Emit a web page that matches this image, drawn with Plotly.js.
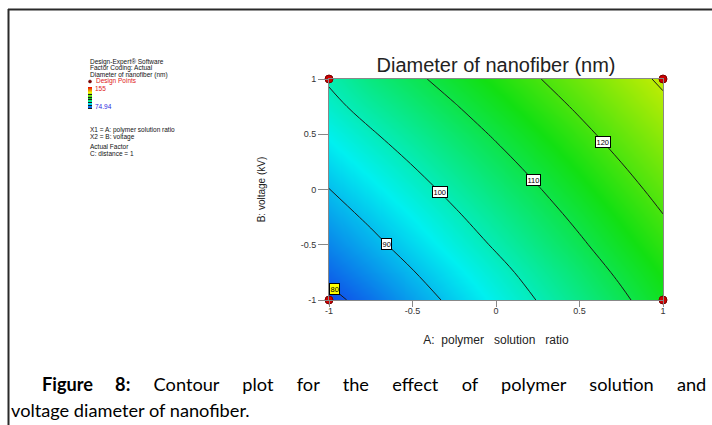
<!DOCTYPE html>
<html>
<head>
<meta charset="utf-8">
<script src="https://cdn.plot.ly/plotly-3.0.1.min.js"></script>
<style>
  html, body { margin: 0; padding: 0; background: #fff; }
  #chart { width: 712px; height: 425px; }
</style>
</head>
<body>
<div id="chart"></div>
<script>
// Coded factor levels (A: polymer solution ratio, B: voltage)
const factorA = [-1, -0.75, -0.5, -0.25, 0, 0.25, 0.5, 0.75, 1];
const factorB = [-1, -0.75, -0.5, -0.25, 0, 0.25, 0.5, 0.75, 1];

// Predicted nanofiber diameter (nm); one row per B level, one column per A level
const diameter = [
  [78.3, 82.3, 87.0, 91.4, 95.8, 100.2, 104.6, 108.9, 113.6],
  [81.5, 85.5, 89.7, 93.9, 98.1, 102.4, 106.7, 111.1, 115.5],
  [84.4, 88.4, 92.45, 96.56, 100.7, 104.88, 109.10, 113.36, 117.65],
  [87.2, 91.05, 95.04, 99.06, 103.13, 107.23, 111.36, 115.54, 119.75],
  [89.9, 93.77, 97.68, 101.62, 105.6, 109.62, 113.68, 117.77, 121.9],
  [92.7, 96.54, 100.36, 104.23, 108.13, 112.06, 116.04, 120.05, 124.1],
  [95.5, 99.36, 103.10, 106.88, 110.7, 114.56, 118.45, 122.38, 126.35],
  [98.3, 102.23, 105.89, 109.59, 113.33, 117.10, 120.91, 124.76, 128.65],
  [100.7, 105.14, 108.73, 112.34, 116.0, 119.69, 123.43, 127.19, 131.0]
];

// Contour levels and the levels that carry a boxed label
const contourLevels = [80, 90, 100, 110, 120, 130];
const labelLevels = [80, 90, 100, 110, 120];

// Design points (corners of the factorial region)
const designA = [-1, 1, -1, 1];
const designB = [-1, -1, 1, 1];

// Observed response range shown in the side legend
const responseRange = [74.94, 155];

// Axis ticks
const tickValues = [-1, -0.5, 0, 0.5, 1];
const tickLabels = ['-1', '-0.5', '0', '0.5', '1'];

// Figure caption, first (justified) line split into words, second line as is
const captionLead = 'Figure 8:';
const captionWords = ['Contour', 'plot', 'for', 'the', 'effect', 'of', 'polymer', 'solution', 'and'];
const captionTail = 'voltage diameter of nanofiber.';

// ---------------------------------------------------------------------------
const W = 712, H = 425;
const M = { l: 329, r: 49, t: 79, b: 125 };
const PW = W - M.l - M.r, PH = H - M.t - M.b;
const px = x => (x - M.l) / PW;          // page pixel -> paper x
const py = y => (H - M.b - y) / PH;      // page pixel -> paper y

const rainbow = [
  [0, '#1228e6'], [0.25, '#00f0f0'], [0.5, '#12e012'],
  [0.75, '#f0f000'], [1, '#e80000']
];

// bilinear lookup in the response grid
function zAt(a, b) {
  const idx = (arr, v) => {
    let i = 0;
    while (i < arr.length - 2 && v > arr[i + 1]) i++;
    return i;
  };
  const i = idx(factorA, a), j = idx(factorB, b);
  const ta = (a - factorA[i]) / (factorA[i + 1] - factorA[i]);
  const tb = (b - factorB[j]) / (factorB[j + 1] - factorB[j]);
  const z00 = diameter[j][i], z10 = diameter[j][i + 1];
  const z01 = diameter[j + 1][i], z11 = diameter[j + 1][i + 1];
  return (1 - ta) * (1 - tb) * z00 + ta * (1 - tb) * z10 +
         (1 - ta) * tb * z01 + ta * tb * z11;
}
// B value where the contour of a given level crosses a vertical line at A
function bOnLevel(a, level) {
  let lo = -1, hi = 1;
  for (let k = 0; k < 40; k++) {
    const mid = (lo + hi) / 2;
    if (zAt(a, mid) < level) lo = mid; else hi = mid;
  }
  return (lo + hi) / 2;
}

const labelAtA = [-0.97, -0.653, -0.335, 0.222, 0.641];
const contourLabels = labelLevels.map((lv, k) => ({
  x: labelAtA[k], y: bOnLevel(labelAtA[k], lv), xref: 'x', yref: 'y',
  text: String(lv), showarrow: false,
  font: { family: 'Liberation Sans, Arial, sans-serif', size: 7.5, color: '#000' },
  bgcolor: lv === 80 ? '#ffff00' : '#ffffff',
  bordercolor: '#000', borderwidth: 1, borderpad: 0.5
}));

const sideFont = { family: 'Liberation Sans, Arial, sans-serif', size: 6.5, color: '#111' };
const sideText = (t, x, y, color) => ({
  xref: 'paper', yref: 'paper', x: px(x), y: py(y), xanchor: 'left', yanchor: 'middle',
  text: t, showarrow: false, font: Object.assign({}, sideFont, color ? { color } : {})
});

const sideNotes = [
  sideText('Design-Expert® Software', 88, 62),
  sideText('Factor Coding: Actual', 88, 68.5),
  sideText('Diameter of nanofiber (nm)', 88, 75),
  sideText('Design Points', 94, 81.5, '#e02020'),
  sideText(String(responseRange[1]), 93, 89, '#e02020'),
  sideText(String(responseRange[0]), 93, 106, '#2a2ae0'),
  sideText('X1 = A: polymer solution ratio', 88, 129.5),
  sideText('X2 = B: voltage', 88, 136.5),
  sideText('Actual Factor', 88, 146),
  sideText('C: distance = 1', 88, 153)
];

// justified first caption line: widen each word gap with non-breaking spaces
const wideGap = ' ' + '&nbsp;'.repeat(4);
const captionFont = { family: 'Lato, "Noto Sans", sans-serif', size: 18.2, color: '#000' };
const caption = [
  { xref: 'paper', yref: 'paper', x: px(40), y: py(384), xanchor: 'left', yanchor: 'middle',
    showarrow: false, font: captionFont,
    text: '<b>' + captionLead.split(' ').join(wideGap) + '</b>' + wideGap + captionWords.join(wideGap) },
  { xref: 'paper', yref: 'paper', x: px(9), y: py(410), xanchor: 'left', yanchor: 'middle',
    showarrow: false, font: captionFont,
    text: captionTail }
];

const traces = [
  {
    type: 'contour',
    x: factorA, y: factorB, z: diameter,
    zmin: responseRange[0], zmax: responseRange[1],
    colorscale: rainbow,
    contours: {
      coloring: 'heatmap', showlines: true,
      start: contourLevels[0], end: contourLevels[contourLevels.length - 1],
      size: contourLevels[1] - contourLevels[0]
    },
    line: { color: '#1a1a1a', width: 1, smoothing: 1.1 },
    showscale: true,
    colorbar: {
      thickness: 4, thicknessmode: 'pixels', len: 22, lenmode: 'pixels',
      x: px(88), xanchor: 'left', xref: 'paper',
      y: py(98), yanchor: 'middle', yref: 'paper',
      outlinewidth: 0, showticklabels: false, ticks: '', xpad: 0, ypad: 0
    },
    hoverinfo: 'skip'
  },
  {
    type: 'scatter', mode: 'markers',
    x: designA, y: designB,
    marker: { size: 8, color: '#cc0000', line: { color: '#7a0000', width: 1 } },
    cliponaxis: false, hoverinfo: 'skip', showlegend: false
  }
];

const axisFont = { family: 'Liberation Sans, Arial, sans-serif', size: 9, color: '#333' };

const layout = {
  width: W, height: H,
  margin: M,
  paper_bgcolor: '#fff', plot_bgcolor: '#fff',
  showlegend: false,
  title: {
    text: 'Diameter of nanofiber (nm)',
    font: { family: 'Liberation Sans, Arial, sans-serif', size: 20, color: '#222' },
    x: 0.5, xref: 'paper', xanchor: 'center',
    y: 1 - 65 / H, yref: 'container', yanchor: 'middle'
  },
  xaxis: {
    range: [-1, 1], tickvals: tickValues, ticktext: tickLabels,
    ticks: 'outside', ticklen: 6, tickcolor: '#888', tickfont: axisFont,
    ticklabelstandoff: -4,
    showline: true, linecolor: '#888', linewidth: 1, mirror: true,
    showgrid: false, zeroline: false, fixedrange: true,
    title: {
      text: 'A:&nbsp;&nbsp;polymer&nbsp;&nbsp;&nbsp;solution&nbsp;&nbsp;&nbsp;ratio',
      font: { family: 'Liberation Sans, Arial, sans-serif', size: 12, color: '#222' },
      standoff: 20
    }
  },
  yaxis: {
    range: [-1, 1], tickvals: tickValues, ticktext: tickLabels,
    ticks: 'outside', ticklen: 10, tickcolor: '#888', tickfont: axisFont,
    showline: true, linecolor: '#888', linewidth: 1, mirror: true,
    showgrid: false, zeroline: false, fixedrange: true,
    title: {
      text: 'B: voltage (kV)',
      font: { family: 'Liberation Sans, Arial, sans-serif', size: 10, color: '#222' },
      standoff: 33
    }
  },
  annotations: contourLabels.concat(sideNotes, caption),
  shapes: [
    // page frame (top and left rules)
    { type: 'line', xref: 'paper', yref: 'paper', x0: px(8), x1: px(W), y0: py(9.5), y1: py(9.5),
      line: { color: '#2a2a2a', width: 2 } },
    { type: 'line', xref: 'paper', yref: 'paper', x0: px(8.5), x1: px(8.5), y0: py(9), y1: py(H),
      line: { color: '#2a2a2a', width: 2 } },
    // design-point symbol in the side legend
    { type: 'circle', xref: 'paper', yref: 'paper',
      x0: px(88.5), x1: px(91.5), y0: py(83), y1: py(80),
      fillcolor: '#8a0000', line: { color: '#5a0000', width: 0.5 } }
  ]
};

Plotly.newPlot('chart', traces, layout, { displayModeBar: false, staticPlot: true });
</script>
</body>
</html>
